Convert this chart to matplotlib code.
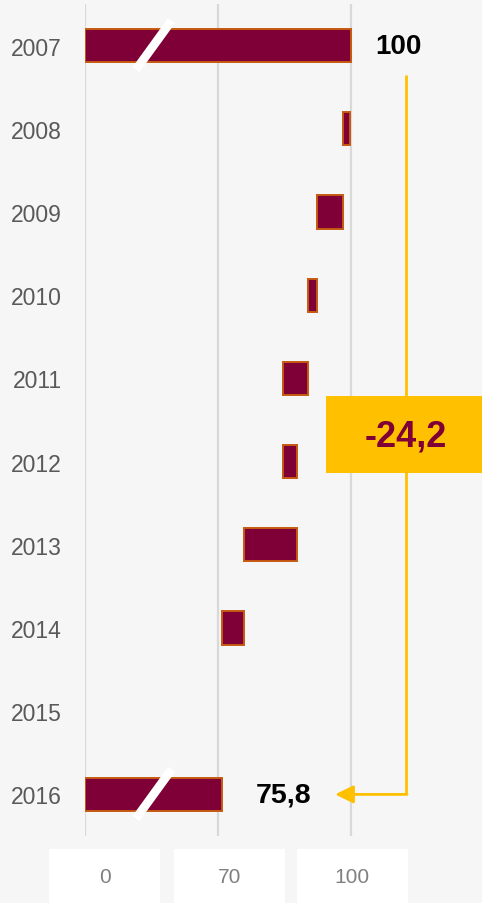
import matplotlib.pyplot as plt
from matplotlib.patches import Rectangle

plt.rcParams['font.family'] = ['Liberation Sans', 'DejaVu Sans']

# data
years = ['2007', '2008', '2009', '2010', '2011', '2012', '2013', '2014', '2015', '2016']
start_value = 100
changes = [-1.5, -4.8, -1.7, -4.8, 2.8, -10.0, -4.2, 0.0]
end_value = 75.8
start_label = '100'
end_label = '75,8'
total_change_label = '-24,2'
# axis is broken: gridlines sit at 50 / 75 / 100 but are labelled 0 / 70 / 100
axis_ticks = [50, 75, 100]
axis_tick_labels = ['0', '70', '100']

W, H = 482, 904
maroon = '#7F0037'
edge = '#C55A11'
yellow = '#FFC000'

fig = plt.figure(figsize=(W / 100, H / 100), dpi=100)
fig.patch.set_facecolor('#F6F6F6')

# axes from x=85px to the right edge, y=5px to 837px
ax = fig.add_axes([85 / W, (H - 837) / H, (W - 85) / W, 832 / H])
ax.set_facecolor('none')
px_per_unit = 5.31
xmin = axis_ticks[0]
ax.set_xlim(xmin, xmin + (W - 85) / px_per_unit)
ax.set_ylim(len(years) - 0.5, -0.5)

# waterfall geometry
lefts, widths = [xmin], [start_value - xmin]
level = start_value
for c in changes:
    new = level + c
    lefts.append(min(level, new))
    widths.append(abs(c))
    level = new
lefts.append(xmin)
widths.append(end_value - xmin)

ypos = list(range(len(years)))
for y, l, w in zip(ypos, lefts, widths):
    if w == 0:
        continue
    ax.barh(y, w, left=l, height=0.4, color=maroon, edgecolor=edge,
            linewidth=1.4, zorder=3)

for t in axis_ticks:
    ax.axvline(t, color='#D9D9D9', lw=1.6, zorder=1)

# break marks on the total bars
for y in [0, len(years) - 1]:
    ax.plot([59.6, 66.3], [y + 0.29, y - 0.3], color='white', lw=6.3,
            solid_capstyle='butt', zorder=4)

# value labels
ax.annotate(start_label, xy=(start_value, 0), xytext=(18, 0),
            textcoords='offset points', ha='left', va='center',
            fontsize=20, fontweight='bold', color='black')
ax.annotate(end_label, xy=(end_value, len(years) - 1), xytext=(24, 0),
            textcoords='offset points', ha='left', va='center',
            fontsize=20.5, fontweight='bold', color='black')

# connector from start to end
xc = 110.5
ax.plot([xc, xc], [0.35, len(years) - 1], color=yellow, lw=2, zorder=2,
        solid_capstyle='butt')
ax.annotate('', xy=(97.1, len(years) - 1), xytext=(xc + 0.15, len(years) - 1),
            arrowprops=dict(arrowstyle='-|>,head_length=0.55,head_width=0.27',
                            color=yellow, lw=2, mutation_scale=20,
                            shrinkA=0, shrinkB=0), zorder=2)

# total change box
ax.add_patch(Rectangle((95.3, 4.21), ax.get_xlim()[1] - 95.3, 0.93,
                       facecolor=yellow, edgecolor='none', zorder=5,
                       clip_on=False))
ax.text(xc, 4.69, total_change_label, ha='center', va='center', fontsize=26,
        fontweight='bold', color=maroon, zorder=6)

ax.set_yticks(ypos, years)
ax.tick_params(axis='y', length=0, pad=16.5, labelsize=16.5, labelcolor='#595959')
ax.set_xticks([])
for s in ax.spines.values():
    s.set_visible(False)

# bottom axis labels in white boxes
for cx, lab in zip([104.8, 229.5, 352.2], axis_tick_labels):
    fig.add_artist(Rectangle(((cx - 55.5) / W, 0), 111 / W, 54 / H,
                             transform=fig.transFigure, facecolor='white',
                             edgecolor='none'))
    fig.text(cx / W, (H - 877.5) / H, lab, ha='center', va='center',
             fontsize=15, color='#808080')

fig.savefig('out.png', dpi=100, facecolor=fig.get_facecolor())
